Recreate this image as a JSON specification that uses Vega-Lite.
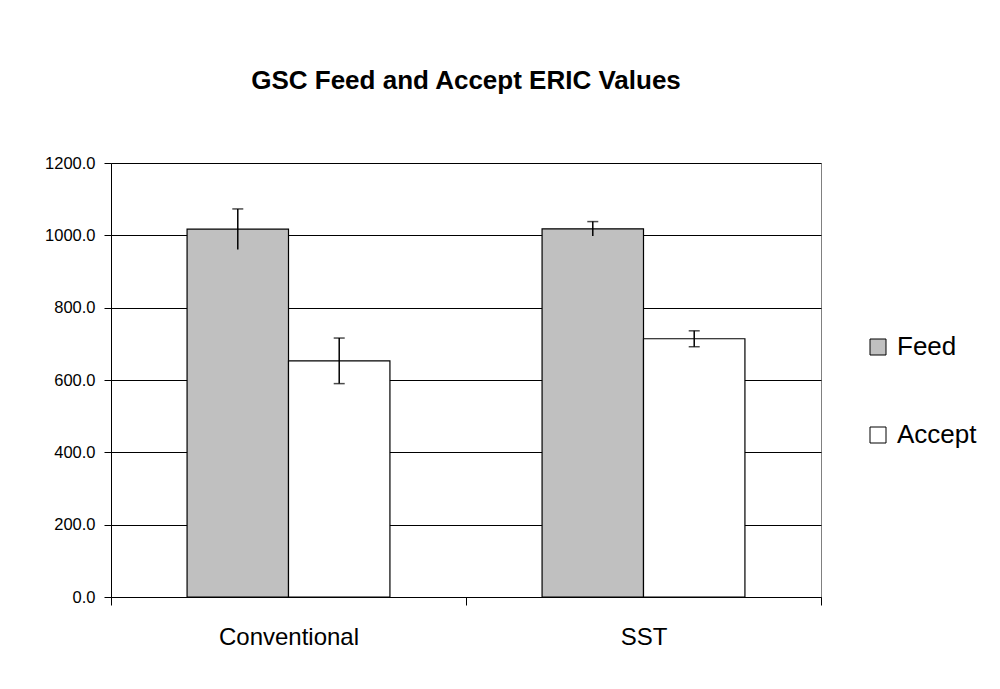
{
  "$schema": "https://vega.github.io/schema/vega-lite/v6.json",
  "width": 710,
  "height": 434,
  "autosize": {"type": "none"},
  "padding": {"left": 111, "top": 163, "right": 179, "bottom": 92},
  "background": "white",
  "config": {
    "font": "Liberation Sans",
    "view": {"stroke": "#808080", "strokeWidth": 1}
  },
  "title": {
    "text": "GSC Feed and Accept ERIC Values",
    "fontSize": 26,
    "fontWeight": "bold",
    "font": "Liberation Sans",
    "color": "black",
    "anchor": "middle",
    "baseline": "alphabetic",
    "offset": 40
  },
  "data": {
    "values": [
      {"Group": "Conventional", "Series": "Feed", "Value": 1017, "Lo": 961, "Hi": 1073},
      {"Group": "Conventional", "Series": "Accept", "Value": 653, "Lo": 590, "Hi": 716},
      {"Group": "SST", "Series": "Feed", "Value": 1018, "Lo": 998, "Hi": 1038},
      {"Group": "SST", "Series": "Accept", "Value": 714, "Lo": 692, "Hi": 736}
    ]
  },
  "encoding": {
    "x": {
      "field": "Group",
      "type": "nominal",
      "sort": ["Conventional", "SST"],
      "scale": {"paddingInner": 0, "paddingOuter": 0},
      "axis": {
        "title": null,
        "labelAngle": 0,
        "labelFontSize": 24,
        "labelColor": "black",
        "labelPadding": 20,
        "domainColor": "black",
        "tickColor": "black",
        "tickSize": 8,
        "tickBand": "extent",
        "grid": false
      }
    },
    "xOffset": {
      "field": "Series",
      "type": "nominal",
      "sort": ["Feed", "Accept"],
      "scale": {"paddingInner": 0, "paddingOuter": 0.75}
    }
  },
  "layer": [
    {
      "mark": {"type": "bar", "stroke": "black", "strokeWidth": 1.2},
      "encoding": {
        "y": {
          "field": "Value",
          "type": "quantitative",
          "scale": {"domain": [0, 1200], "nice": false},
          "axis": {
            "title": null,
            "values": [0, 200, 400, 600, 800, 1000, 1200],
            "format": ".1f",
            "labelFontSize": 16.5,
            "labelColor": "black",
            "labelPadding": 9,
            "tickSize": 7,
            "tickColor": "black",
            "domainColor": "black",
            "gridColor": "black",
            "gridOpacity": 1,
            "gridWidth": 1
          }
        },
        "fill": {
          "field": "Series",
          "type": "nominal",
          "sort": ["Feed", "Accept"],
          "scale": {"domain": ["Feed", "Accept"], "range": ["#C0C0C0", "#FFFFFF"]},
          "legend": {
            "title": null,
            "orient": "none",
            "legendX": 754,
            "legendY": 171,
            "symbolType": "square",
            "symbolSize": 256,
            "symbolStrokeColor": "black",
            "symbolStrokeWidth": 1,
            "labelFontSize": 26,
            "labelColor": "black",
            "labelOffset": 6,
            "rowPadding": 62
          }
        }
      }
    },
    {
      "mark": {"type": "rule", "color": "black", "strokeWidth": 1.5},
      "encoding": {
        "y": {"field": "Lo", "type": "quantitative"},
        "y2": {"field": "Hi"}
      }
    },
    {
      "mark": {"type": "tick", "color": "black", "size": 11, "thickness": 1.5, "orient": "horizontal"},
      "encoding": {
        "y": {"field": "Hi", "type": "quantitative"}
      }
    },
    {
      "transform": [{"filter": "datum.Series == 'Accept'"}],
      "mark": {"type": "tick", "color": "black", "size": 11, "thickness": 1.5, "orient": "horizontal"},
      "encoding": {
        "y": {"field": "Lo", "type": "quantitative"}
      }
    }
  ]
}
